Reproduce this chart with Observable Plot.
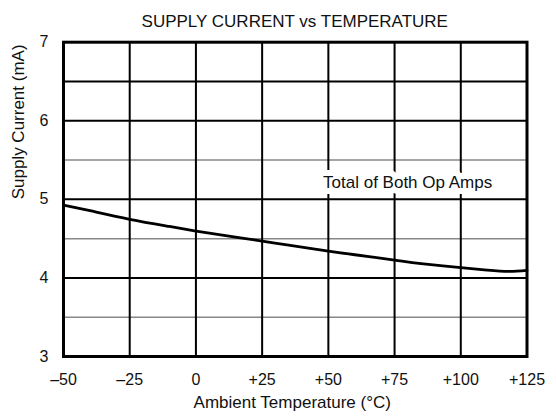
<!DOCTYPE html>
<html>
<head>
<meta charset="utf-8">
<script src="https://cdn.jsdelivr.net/npm/d3@7"></script>
<script src="https://cdn.jsdelivr.net/npm/@observablehq/plot@0.6"></script>
<style>
  body { margin: 0; background: #fff; }
  #title {
    width: 556px; box-sizing: border-box;
    padding: 12px 29.5px 0 63px; height: 31px;
    font: 17px "Liberation Sans", Arial, sans-serif; line-height: 19px;
    text-align: center; color: #111;
  }
</style>
</head>
<body>
<div id="title">SUPPLY CURRENT vs TEMPERATURE</div>
<div id="chart"></div>
<script>
// Data
const temperature = [-50, -40, -25, -10, 0, 10, 25, 35, 50, 60, 75, 85, 100, 110, 118, 125];
const supplyCurrent = [4.927, 4.855, 4.746, 4.655, 4.597, 4.545, 4.469, 4.418, 4.342, 4.295, 4.227, 4.182, 4.13, 4.10, 4.084, 4.097];

const xTicks = [-50, -25, 0, 25, 50, 75, 100, 125];
const yTicks = [3, 4, 5, 6, 7];
const yGridMajor = [4, 5, 6, 6.5];
const yGridMinor = [3.5, 4.5, 5.5];

const noteText = ["Total of Both Op Amps"];
const noteX = [48];
const noteY = [5.22];

const xLabel = "Ambient Temperature (°C)";
const yLabel = "Supply Current (mA)";

const curve = temperature.map((t, i) => ({t, c: supplyCurrent[i]}));
const notes = noteText.map((s, i) => ({s, x: noteX[i], y: noteY[i]}));

const fmtX = d => d > 0 ? "+" + d : d < 0 ? "\u2013" + Math.abs(d) : "0";
const fmtY = d => String(d);

const chart = Plot.plot({
  width: 556,
  height: 388,
  marginTop: 10.7,
  marginBottom: 63,
  marginLeft: 63,
  marginRight: 29.5,
  style: {fontFamily: "'Liberation Sans', Arial, sans-serif", fontSize: "16px", color: "#111", background: "#fff"},
  x: {domain: [-50, 125]},
  y: {domain: [3, 7]},
  marks: [
    Plot.ruleY(yGridMinor, {stroke: "#888", strokeWidth: 1.5}),
    Plot.ruleY(yGridMajor, {stroke: "#000", strokeWidth: 2}),
    Plot.ruleX(xTicks, {stroke: "#000", strokeWidth: 2}),
    Plot.line(curve, {x: "t", y: "c", curve: "natural", stroke: "#000", strokeWidth: 2.8}),
    Plot.text(notes, {x: "x", y: "y", text: "s", textAnchor: "start", fontSize: 17, fill: "#111", stroke: "#fff", strokeWidth: 12}),
    Plot.frame({stroke: "#000", strokeWidth: 3}),
    Plot.axisX({ticks: xTicks, tickFormat: fmtX, tickSize: 0, tickPadding: 17, label: null, fontSize: 16}),
    Plot.axisY({ticks: yTicks, tickFormat: fmtY, tickSize: 0, tickPadding: 15, label: null, fontSize: 16}),
    Plot.text([xLabel], {frameAnchor: "bottom", dy: 51.5, dx: -3, fontSize: 17, fill: "#111"}),
    Plot.text([yLabel], {frameAnchor: "left", rotate: -90, dx: -45, fontSize: 17, fill: "#111"})
  ]
});
document.getElementById("chart").append(chart);
</script>
</body>
</html>
